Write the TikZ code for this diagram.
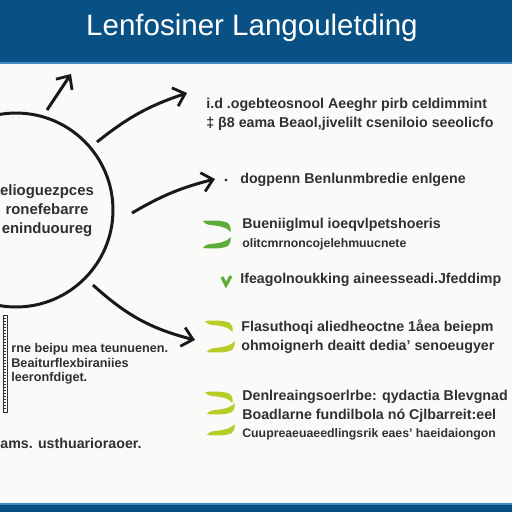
\documentclass[tikz,border=0pt]{standalone}
\usepackage{fontspec}
\setmainfont{Liberation Sans}
\usetikzlibrary{arrows.meta,positioning}
\definecolor{BannerBlue}{RGB}{9,80,132}
\definecolor{EdgeBlue}{RGB}{62,140,196}
\definecolor{IconGreen}{RGB}{92,172,58}
\definecolor{IconLime}{RGB}{184,204,40}
\definecolor{InkGray}{RGB}{48,48,48}
\definecolor{PaperWhite}{RGB}{250,250,249}

\begin{document}
\begin{tikzpicture}[x=0.02cm,y=-0.02cm,
  txt/.style={anchor=west,align=left,text=InkGray,inner sep=0pt,
              font=\bfseries\fontsize{8.1}{10.8}\selectfont},
  small/.style={font=\bfseries\fontsize{7}{8.4}\selectfont},
  arr/.style={-{Straight Barb[length=6pt,width=11pt,line width=1.6pt]},
              line width=1.7pt,draw=black!90},
  prong/.pic={\fill (0,0) .. controls (10,-1) and (20,-0.5) .. (25,2)
                 .. controls (27.5,4) and (28,7) .. (27.5,11)
                 .. controls (25,7.5) and (20,5.5) .. (12,4.5)
                 .. controls (6,4) and (2,3.5) .. (0,0) -- cycle;},
]
\path[use as bounding box,clip] (0,0) rectangle (512,512);
\fill[PaperWhite] (0,0) rectangle (512,512);
\fill[BannerBlue] (0,0) rectangle (512,63);
\draw[EdgeBlue,line width=0.8pt] (0,63) -- (512,63);
\fill[BannerBlue] (0,504) rectangle (512,512);
\draw[EdgeBlue,line width=0.6pt] (0,504) -- (512,504);
\node[text=white,font=\fontsize{16.8}{19}\selectfont] (title) at (252,28) {Lenfosiner Langouletding};

\node[draw=black!90,line width=1.7pt,circle,minimum size=3.88cm] (circ) at (16,210) {};
\node[txt,anchor=center,align=center,font=\bfseries\fontsize{8.5}{10.8}\selectfont] (core) at (47,211)
  {elioguezpces\\ronefebarre\\eninduoureg};

\coordinate (a1s) at (47,110);  \coordinate (a1e) at (71,74);
\coordinate (a2s) at (97,142);  \coordinate (a2e) at (187,93);
\coordinate (a3s) at (132,213); \coordinate (a3e) at (215,179);
\coordinate (a4s) at (93,285);  \coordinate (a4e) at (195,340);
\draw[arr] (a1s) -- (a1e);
\draw[arr] (a2s) to[bend left=10] (a2e);
\draw[arr] (a3s) to[bend left=8] (a3e);
\draw[arr] (a4s) to[bend right=14] (a4e);

\node[txt] (it1) at (206,114) {i.d .ogebteosnool Aeeghr pirb celdimmint\\‡ β8 eama Beaol,jivelilt cseniloio seeolicfo};
\fill[InkGray] (226,180) circle (1.6);
\node[txt] (it2) at (240,180) {dogpenn Benlunmbredie enlgene};
\pic[color=IconGreen] at (203,221) {prong};
\pic[color=IconGreen,yscale=-1] at (203,248) {prong};
\node[txt] (it3) at (242,225) {Bueniiglmul ioeqvlpetshoeris};
\node[txt,small,anchor=north west] (it3b) at (242,238) {olitcmrnoncojelehmuucnete};
\draw[IconGreen,line width=1.8pt] (222,277) -- (226,285) -- (231,276);
\node[txt] (it4) at (240,280) {Ifeagolnoukking aineesseadi.Jfeddimp};
\pic[color=IconLime] at (205,321) {prong};
\pic[color=IconLime,yscale=-1] at (207,352) {prong};
\node[txt] (it5) at (241,337) {Flasuthoqi aliedheoctne 1åea beiepm\\ohmoignerh deaitt dedia' senoeugyer};
\pic[color=IconLime] at (205,392) {prong};
\pic[color=IconLime,yscale=-1] at (207,414) {prong};
\pic[color=IconLime,yscale=-1] at (207,435) {prong};
\node[txt] (it6) at (242,406) {Denlreaingsoerlrbe: qydactia Blevgnad\\Boadlarne fundilbola nó Cjlbarreit:eel};
\node[txt,small,anchor=north west] (it6b) at (242,428) {Cuupreaeuaeedlingsrik eaes' haeidaiongon};

\draw[InkGray,line width=0.5pt] (3,315) rectangle (7,412);
\foreach \y in {318,321,...,410}
  \draw[InkGray,line width=0.3pt] (3,\y) -- (6,\y);
\node[txt,font=\bfseries\fontsize{7.2}{8.3}\selectfont] (side) at (11,364)
  {rne beipu mea teunuenen.\\Beaiturflexbiraniies\\leeronfdiget.};
\node[txt] (foot) at (0,443) {ams. usthuarioraoer.};
\end{tikzpicture}
\end{document}
